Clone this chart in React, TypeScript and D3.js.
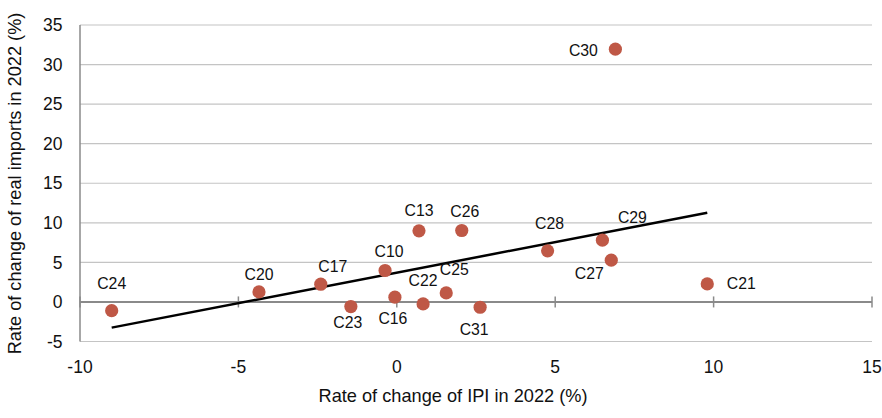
import React from "react";
import * as d3 from "d3";

// Industry codes with IPI change (x) and real import change (y), 2022, in %
const codes = ["C24", "C20", "C17", "C23", "C10", "C16", "C13", "C22", "C25", "C26", "C31", "C28", "C29", "C27", "C21", "C30"];
const ipiChange = [-9.0, -4.35, -2.4, -1.45, -0.37, -0.06, 0.7, 0.83, 1.56, 2.05, 2.63, 4.76, 6.49, 6.77, 9.8, 6.9];
const importChange = [-1.1, 1.27, 2.24, -0.58, 3.97, 0.6, 8.99, -0.25, 1.14, 9.03, -0.67, 6.46, 7.81, 5.28, 2.28, 31.95];

const xTicks = [-10, -5, 0, 5, 10, 15];
const yTicks = [-5, 0, 5, 10, 15, 20, 25, 30, 35];

const xTitle = "Rate of change of IPI in 2022 (%)";
const yTitle = "Rate of change of real imports in 2022 (%)";

// Label placement relative to each dot: [dx, dy to baseline]
const labelOffset: Record<string, [number, number]> = {
  C24: [0, -22], C20: [0, -12], C17: [12, -12], C23: [-3, 21], C10: [4, -14],
  C16: [-2, 27], C13: [0, -15], C22: [0, -18], C25: [8, -18], C26: [3, -13],
  C31: [-6, 28], C28: [2, -22], C29: [30, -17], C27: [-22, 19], C21: [34, 5],
  C30: [-32, 7],
};

const W = 882;
const H = 418;
const FONT = "Helvetica, 'Liberation Sans', Arial, sans-serif";

export default function App() {
  const x = d3.scaleLinear().domain([-10, 15]).range([80, 872]);
  const y = d3.scaleLinear().domain([-5, 35]).range([341.5, 25]);

  const pts = codes.map((c, i) => ({ c, x: ipiChange[i], y: importChange[i] }));

  // Least-squares trend line over all points
  const mx = d3.mean(pts, (p) => p.x) as number;
  const my = d3.mean(pts, (p) => p.y) as number;
  const sxy = d3.sum(pts, (p) => (p.x - mx) * (p.y - my));
  const sxx = d3.sum(pts, (p) => (p.x - mx) ** 2);
  const slope = sxy / sxx;
  const intercept = my - slope * mx;
  const [xmin, xmax] = d3.extent(pts, (p) => p.x) as [number, number];
  const trend = d3.line<number>().x((v) => x(v)).y((v) => y(intercept + slope * v));

  return (
    <svg width={W} height={H} style={{ position: "absolute", left: 0, top: 0, background: "#fff" }} fontFamily={FONT}>
      {/* horizontal gridlines */}
      {yTicks.filter((t) => t !== 0).map((t) => (
        <line key={t} x1={x(-10)} x2={x(15)} y1={y(t)} y2={y(t)} stroke="#c4c4c4" strokeWidth={1.2} />
      ))}
      {/* vertical axis */}
      <line x1={x(-10)} x2={x(-10)} y1={y(35)} y2={y(-5)} stroke="#8a8a8a" strokeWidth={1.5} />
      {/* horizontal axis at zero */}
      <line x1={x(-10)} x2={x(15)} y1={y(0)} y2={y(0)} stroke="#8a8a8a" strokeWidth={2} />
      {xTicks.map((t) => (
        <line key={t} x1={x(t)} x2={x(t)} y1={y(0) - 5.5} y2={y(0) + 5.5} stroke="#8a8a8a" strokeWidth={1.5} />
      ))}
      {/* tick labels */}
      {yTicks.map((t) => (
        <text key={t} x={62.5} y={y(t)} dy="0.35em" textAnchor="end" fontSize={17.5} fill="#111">
          {t}
        </text>
      ))}
      {xTicks.map((t) => (
        <text key={t} x={x(t)} y={373} textAnchor="middle" fontSize={17.5} fill="#111">
          {t}
        </text>
      ))}
      {/* trend line */}
      <path d={trend([xmin, xmax]) || ""} stroke="#000" strokeWidth={2.5} fill="none" />
      {/* points */}
      {pts.map((p) => (
        <circle key={p.c} cx={x(p.x)} cy={y(p.y)} r={6.6} fill="#bf5846" />
      ))}
      {pts.map((p) => {
        const [dx, dy] = labelOffset[p.c] || [0, -14];
        return (
          <text key={p.c} x={x(p.x) + dx} y={y(p.y) + dy} textAnchor="middle" fontSize={15.8} fill="#111">
            {p.c}
          </text>
        );
      })}
      {/* axis titles */}
      <text x={453} y={402} textAnchor="middle" fontSize={18.2} fill="#111">
        {xTitle}
      </text>
      <text transform={`translate(20.5,183.5) rotate(-90)`} textAnchor="middle" fontSize={18.2} fill="#111">
        {yTitle}
      </text>
    </svg>
  );
}
